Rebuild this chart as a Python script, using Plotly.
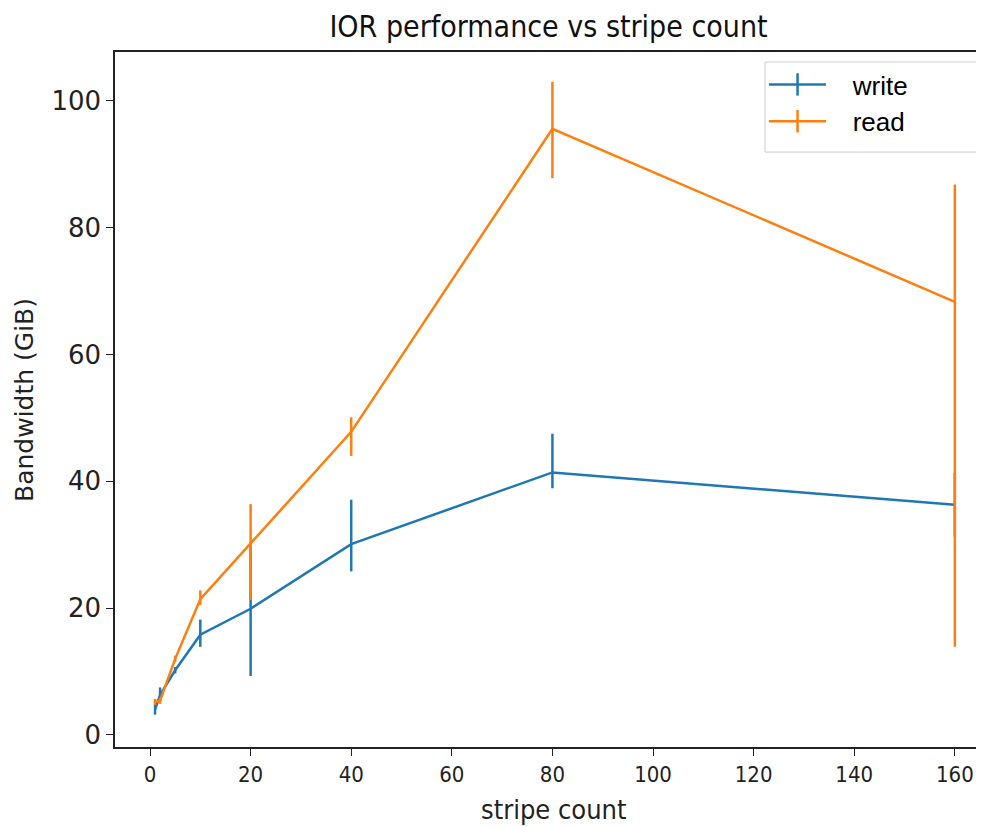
import plotly.graph_objects as go

stripe_count = [1, 2, 5, 10, 20, 40, 80, 160]

write_bw = [4.0, 6.3, 10.2, 15.8, 19.9, 30.1, 41.4, 36.3]
write_err_plus = [0.9, 1.2, 0.5, 2.4, 10.5, 7.0, 6.1, 5.0]
write_err_minus = [0.8, 1.0, 0.5, 1.9, 10.6, 4.3, 2.5, 5.0]

read_bw = [5.2, 5.4, 12.0, 21.4, 30.2, 47.8, 95.6, 68.3]
read_err_plus = [0.5, 0.5, 0.5, 1.4, 6.2, 2.3, 7.4, 18.5]
read_err_minus = [0.5, 0.5, 0.5, 0.9, 8.9, 3.8, 7.8, 54.4]

x_ticks = [0, 20, 40, 60, 80, 100, 120, 140, 160]
y_ticks = [0, 20, 40, 60, 80, 100]

BLUE = "#1f77b4"
ORANGE = "#ff7f0e"
COND = "DejaVu Sans Condensed, DejaVu Sans"
PAD = "\u00a0\u00a0\u00a0"

fig = go.Figure()
for name, ys, ep, em, col in [("write", write_bw, write_err_plus, write_err_minus, BLUE),
                              ("read", read_bw, read_err_plus, read_err_minus, ORANGE)]:
    fig.add_trace(go.Scatter(
        x=stripe_count, y=ys, mode="lines", name=name, showlegend=False,
        line=dict(color=col, width=2.5),
        error_y=dict(type="data", symmetric=False, array=ep, arrayminus=em,
                     color=col, thickness=2.5, width=0),
    ))
# legend-only entries (line with vertical error tick)
for name, col in [("write", BLUE), ("read", ORANGE)]:
    fig.add_trace(go.Scatter(
        x=[None], y=[None], mode="lines+markers", name=PAD + name,
        line=dict(color=col, width=2.5),
        marker=dict(symbol="line-ns-open", size=24, color=col, line=dict(color=col, width=2.5)),
    ))

fig.update_layout(
    width=976, height=819,
    margin=dict(l=107, r=2, t=44, b=80, autoexpand=False),
    paper_bgcolor="white", plot_bgcolor="white",
    title=dict(text="IOR performance vs stripe count", x=0.5, xref="paper",
               y=1 - 18 / 819, yref="container", yanchor="middle", automargin=False,
               font=dict(family=COND, size=30, color="#111")),
    xaxis=dict(range=[-6.96, 165.4], tickvals=x_ticks, showgrid=False, zeroline=False,
               showline=True, linecolor="#222", linewidth=1.5, mirror=True,
               ticks="outside", ticklen=7, tickcolor="#222", automargin=False,
               tickfont=dict(family=COND, size=22, color="#222")),
    yaxis=dict(range=[-1.9, 107.7], tickvals=y_ticks, showgrid=False, zeroline=False,
               showline=True, linecolor="#222", linewidth=1.5, mirror=True,
               ticks="outside", ticklen=7, tickcolor="#222", automargin=False,
               tickfont=dict(family="DejaVu Sans", size=26, color="#222")),
    annotations=[
        dict(text="stripe count", xref="paper", yref="paper", x=0.506, y=-0.0906,
             showarrow=False, xanchor="center", yanchor="middle",
             font=dict(family=COND, size=27, color="#222")),
        dict(text="Bandwidth (GiB)", xref="paper", yref="paper", x=-0.1038, y=0.4993,
             showarrow=False, xanchor="center", yanchor="middle", textangle=-90,
             font=dict(family="DejaVu Sans", size=25, color="#222")),
    ],
    shapes=[dict(type="rect", xref="paper", yref="paper", x0=0.7497, x1=1.0,
                 y0=0.856, y1=0.9856, line=dict(color="#cccccc", width=1),
                 fillcolor="white", layer="above")],
    legend=dict(x=0.7486, y=0.987, xanchor="left", yanchor="top",
                bgcolor="rgba(0,0,0,0)", borderwidth=0,
                font=dict(family="Liberation Sans, Arial", size=26, color="black"),
                itemwidth=57, tracegroupgap=0),
    showlegend=True,
)

fig.write_html("out.html")
